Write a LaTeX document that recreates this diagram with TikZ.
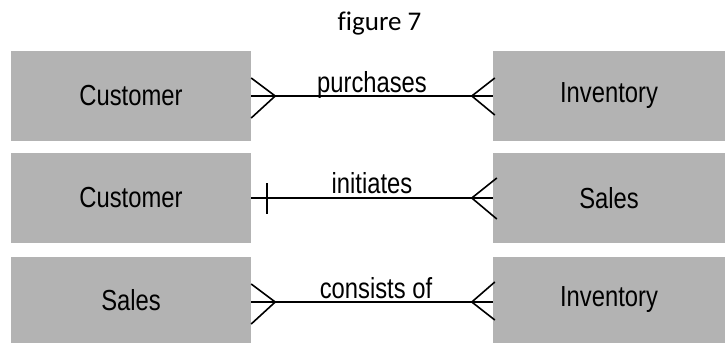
\documentclass[tikz,border=0pt]{standalone}
\usepackage{fontspec}
\newfontfamily\narrowfont[FakeStretch=0.82]{Liberation Sans}
\newfontfamily\calfont[Ligatures=NoCommon]{Carlito}
\definecolor{boxgray}{RGB}{179,179,179}
\begin{document}
\begin{tikzpicture}[x=1pt,y=-1pt,
  entity/.style={fill=boxgray, draw=none, inner sep=0pt, minimum height=90pt,
                 font=\narrowfont\fontsize{29}{34}\selectfont},
  leftbox/.style={entity, minimum width=240pt},
  rightbox/.style={entity, minimum width=232pt},
  rel/.style={line width=1.6pt, black},
  rellabel/.style={anchor=base, inner sep=0pt, font=\narrowfont\fontsize{29}{34}\selectfont}]
\useasboundingbox (0,0) rectangle (725,343);
% title
\node[anchor=base, inner sep=0pt, font=\calfont\fontsize{27}{31}\selectfont] (title) at (379.5,30) {figure 7};
% entities
\node[leftbox]  (c1) at (131,96) {Customer};
\node[rightbox] (i1) at (609,96) {Inventory};
\node[leftbox]  (c2) at (131,198) {Customer};
\node[rightbox] (s2) at (609,198) {Sales};
\node[leftbox, minimum height=86pt]  (s3) at (131,300) {Sales};
\node[rightbox, minimum height=86pt] (i3) at (609,300) {Inventory};
% row 1
\draw[rel] (c1.east) -- (i1.west);
\draw[rel] ([yshift=18pt]c1.east) -- ++(24,18) -- ++(-24,22);
\draw[rel] ([xshift=2pt,yshift=18pt]i1.west) -- ++(-23,18) -- ++(23,19);
\node[rellabel] (l1) at (372,92) {purchases};
% row 2
\draw[rel] (c2.east) -- (s2.west);
\draw[rel] ([xshift=16pt,yshift=15pt]c2.east) -- ++(0,31);
\draw[rel] ([xshift=4pt,yshift=20pt]s2.west) -- ++(-25,20) -- ++(25,21);
\node[rellabel] (l2) at (372,193) {initiates};
% row 3
\draw[rel] ([yshift=-2pt]s3.east) -- ([yshift=-2pt]i3.west);
\draw[rel] ([yshift=16pt]s3.east) -- ++(24,18) -- ++(-24,22);
\draw[rel] ([xshift=2pt,yshift=18pt]i3.west) -- ++(-23,20) -- ++(23,18);
\node[rellabel] (l3) at (376,298) {consists of};
\end{tikzpicture}
\end{document}
